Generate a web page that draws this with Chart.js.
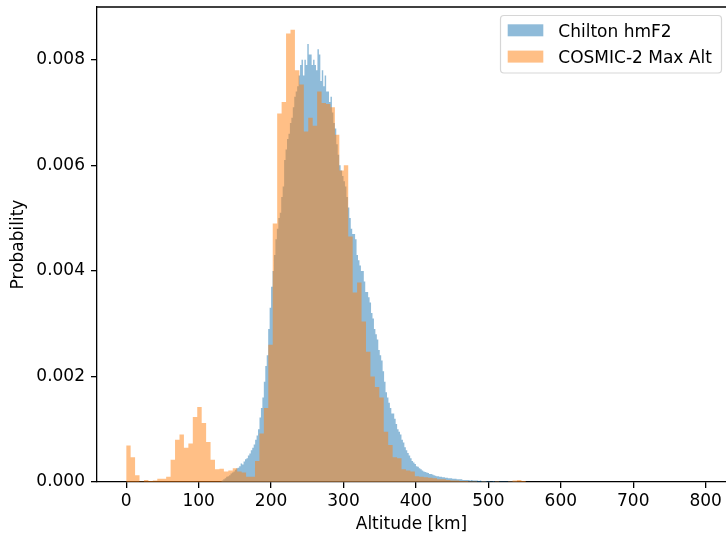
<!DOCTYPE html>
<html>
<head>
<meta charset="utf-8">
<title>Altitude histogram</title>
<script src="https://cdn.jsdelivr.net/npm/chart.js@4/dist/chart.umd.min.js"></script>
<style>
    body { margin: 0; background: #fff; }
    #wrap { width: 726px; height: 541px; }
</style>
</head>
<body>
<div id="wrap"><canvas id="hist-chart" width="726" height="541"></canvas></div>
<script>
// Histogram bins: first left edge and width in km
const chiltonStart = 130;
const chiltonWidth = 2;
const cosmicStart = 0;
const cosmicWidth = 6.13;

// Chilton hmF2 probability per bin
const chiltonValues = [
    0.00001, 0.00003, 0.00005, 0.00007, 0.0001, 0.00011, 0.00013, 0.00016, 0.00018, 0.0002,
    0.00023, 0.00026, 0.00027, 0.0003, 0.00035, 0.00033, 0.00039, 0.00043, 0.00045, 0.0005,
    0.00054, 0.0006, 0.00065, 0.00071, 0.0008, 0.00088, 0.001, 0.00122, 0.0014, 0.0016,
    0.0019, 0.0022, 0.0024, 0.0029, 0.0033, 0.0037, 0.0040, 0.0043, 0.0046, 0.0048,
    0.0050, 0.0051, 0.0054, 0.0056, 0.0061, 0.0063, 0.0065, 0.0066, 0.0068, 0.0069,
    0.0071, 0.0073, 0.0074, 0.0075, 0.0077, 0.0079, 0.0080, 0.0077, 0.0080, 0.0079,
    0.0083, 0.0081, 0.0081, 0.0079, 0.0080, 0.0079, 0.0078, 0.0082, 0.0081, 0.0076,
    0.0078, 0.0075, 0.0077, 0.0074, 0.0074, 0.0072, 0.0073, 0.0070, 0.0068, 0.0067,
    0.0064, 0.0062, 0.0060, 0.0059, 0.0058, 0.0057, 0.0056, 0.0054, 0.0052, 0.0050,
    0.0048, 0.0047, 0.0047, 0.0046, 0.0043, 0.0042, 0.0041, 0.0040, 0.0040, 0.0038,
    0.0036, 0.0036, 0.0035, 0.0034, 0.0032, 0.0031, 0.0029, 0.0028, 0.0027, 0.0025,
    0.0024, 0.0023, 0.0021, 0.0019, 0.0017, 0.0016, 0.0015, 0.0014, 0.0013, 0.0013,
    0.0012, 0.0011, 0.0010, 0.00095, 0.0009, 0.0008, 0.00075, 0.00066, 0.0006, 0.00055,
    0.0005, 0.00045, 0.0004, 0.00037, 0.00034, 0.0003, 0.00029, 0.00026, 0.00024, 0.00022,
    0.0002, 0.00019, 0.00018, 0.00017, 0.00015, 0.00015, 0.00014, 0.00013, 0.00012, 0.00011,
    0.00011, 0.0001, 0.0001, 0.00009, 0.00009, 0.00008, 0.00008, 0.00007, 0.00007, 0.00007,
    0.00006, 0.00006, 0.00006, 0.00005, 0.00005, 0.00005, 0.00005, 0.00004, 0.00004, 0.00004,
    0.00004, 0.00004, 0.00003, 0.00004, 0.00003, 0.00003, 0.00003, 0.00003, 0.00002, 0.00003,
    0.00002, 0.00002, 0.00002, 0.00002, 0.00001, 0.00002, 0.00001, 0.00001, 0.00002, 0.00001,
    0.00001, 0.00001, 0.00001, 0.00001, 0.00001, 0.00001, 0.00001, 0.00001, 0.00001, 0.00001,
    0.00001, 0.00001, 0.00001, 0.00001, 0.00001
];

// COSMIC-2 max altitude probability per bin
const cosmicValues = [
    0.00069, 0.00047, 0.00013, 0.00001, 0.00004, 0.00002, 0.00003, 0.00006, 0.00006, 0.0001,
    0.00042, 0.0008, 0.0009, 0.00065, 0.00073, 0.00123, 0.00142, 0.00112, 0.00076, 0.00042,
    0.00024, 0.00025, 0.0002, 0.00022, 0.00026, 0.0002, 0.00018, 0.0001, 0.0001, 0.0004,
    0.00092, 0.0014, 0.0026, 0.0049, 0.00698, 0.0072, 0.0085, 0.00857, 0.0078, 0.00753,
    0.00664, 0.0069, 0.00675, 0.0074, 0.00718, 0.00716, 0.0071, 0.00658, 0.0059, 0.006,
    0.00465, 0.00359, 0.00378, 0.00304, 0.00247, 0.002, 0.0018, 0.0016, 0.00095, 0.0007,
    0.00047, 0.00045, 0.00024, 0.00022, 0.0002, 0.00011, 0.0001, 0.00009, 0.00008, 0.00007,
    0.00005, 0.00005, 0.00004, 0.00003, 0.00003, 0.00002, 0.00002, 0.00001, 0.00001, 0,
    0.00001, 0, 0, 0.00001, 0, 0, 0.00001, 0.00003, 0.00004, 0.00002
];

// Axis ticks
const xTickValues = [0, 100, 200, 300, 400, 500, 600, 700, 800];
const yTickValues = [0, 0.002, 0.004, 0.006, 0.008];

const seriesLabels = ['Chilton hmF2', 'COSMIC-2 Max Alt'];
const seriesColors = ['rgba(31, 119, 180, 0.5)', 'rgba(255, 127, 14, 0.5)'];

// Turn bin values into step points (left edges plus closing edge)
function histPoints(start, width, values) {
    const points = values.map((v, i) => ({ x: start + i * width, y: v }));
    points.push({ x: start + values.length * width, y: 0 });
    return points;
}

// Draws the top spine and a matplotlib style legend
const frameAndLegend = {
    id: 'frameAndLegend',
    afterDraw(chart) {
        const ctx = chart.ctx;
        const area = chart.chartArea;
        ctx.save();

        // Top spine
        ctx.strokeStyle = '#000';
        ctx.lineWidth = 1.3;
        ctx.beginPath();
        ctx.moveTo(area.left, area.top);
        ctx.lineTo(area.right, area.top);
        ctx.stroke();

        // Legend frame
        ctx.fillStyle = 'rgba(255, 255, 255, 0.8)';
        ctx.strokeStyle = 'rgba(204, 204, 204, 0.8)';
        ctx.lineWidth = 1.2;
        ctx.beginPath();
        ctx.roundRect(500.5, 15.5, 221, 57.5, 3.5);
        ctx.fill();
        ctx.stroke();

        // Legend entries
        ctx.font = "17px 'DejaVu Sans'";
        ctx.textBaseline = 'alphabetic';
        ctx.textAlign = 'left';
        seriesLabels.forEach((label, i) => {
            const rowTop = 24.3 + i * 26.3;
            ctx.fillStyle = seriesColors[i];
            ctx.fillRect(507.7, rowTop, 35.6, 12);
            ctx.fillStyle = '#000';
            ctx.fillText(label, 558.3, rowTop + 12.3);
        });

        ctx.restore();
    }
};

Chart.defaults.font.family = "'DejaVu Sans', sans-serif";
Chart.defaults.font.size = 17;
Chart.defaults.color = '#000';

const ctx = document.getElementById('hist-chart').getContext('2d');

window.histChart = new Chart(ctx, {
    type: 'line',
    data: {
        datasets: [
            {
                label: seriesLabels[0],
                data: histPoints(chiltonStart, chiltonWidth, chiltonValues),
                backgroundColor: seriesColors[0],
                borderColor: 'rgba(0, 0, 0, 0)',
                borderWidth: 0,
                pointRadius: 0,
                stepped: 'before',
                fill: 'origin',
                order: 1
            },
            {
                label: seriesLabels[1],
                data: histPoints(cosmicStart, cosmicWidth, cosmicValues),
                backgroundColor: seriesColors[1],
                borderColor: 'rgba(0, 0, 0, 0)',
                borderWidth: 0,
                pointRadius: 0,
                stepped: 'before',
                fill: 'origin',
                order: 0
            }
        ]
    },
    options: {
        responsive: false,
        devicePixelRatio: 1,
        animation: false,
        layout: {
            padding: { top: 7, right: 0, left: 0, bottom: 0 }
        },
        plugins: {
            legend: { display: false },
            tooltip: { enabled: false }
        },
        scales: {
            x: {
                type: 'linear',
                min: -40.3,
                max: 828,
                afterBuildTicks: function(axis) {
                    axis.ticks = xTickValues.map(v => ({ value: v }));
                },
                afterFit: function(axis) {
                    axis.height = 59;
                    axis.paddingLeft = 0;
                    axis.paddingRight = 0;
                },
                grid: {
                    drawOnChartArea: false,
                    tickLength: 6,
                    lineWidth: 1.3,
                    tickColor: '#000'
                },
                border: { color: '#000', width: 1.3 },
                ticks: {
                    padding: 3,
                    maxRotation: 0,
                    autoSkip: false,
                    callback: function(value) {
                        return String(value);
                    }
                },
                title: {
                    display: true,
                    text: 'Altitude [km]',
                    padding: { top: 0, bottom: 6 }
                }
            },
            y: {
                type: 'linear',
                min: 0,
                max: 0.009,
                afterBuildTicks: function(axis) {
                    axis.ticks = yTickValues.map(v => ({ value: v }));
                },
                afterFit: function(axis) {
                    axis.width = 97;
                    axis.paddingTop = 0;
                    axis.paddingBottom = 0;
                },
                grid: {
                    drawOnChartArea: false,
                    tickLength: 6,
                    lineWidth: 1.3,
                    tickColor: '#000'
                },
                border: { color: '#000', width: 1.3 },
                ticks: {
                    padding: 6,
                    callback: function(value) {
                        return value.toFixed(3);
                    }
                },
                title: {
                    display: true,
                    text: 'Probability',
                    padding: { top: 8, bottom: 0 }
                }
            }
        }
    },
    plugins: [frameAndLegend]
});
</script>
</body>
</html>
